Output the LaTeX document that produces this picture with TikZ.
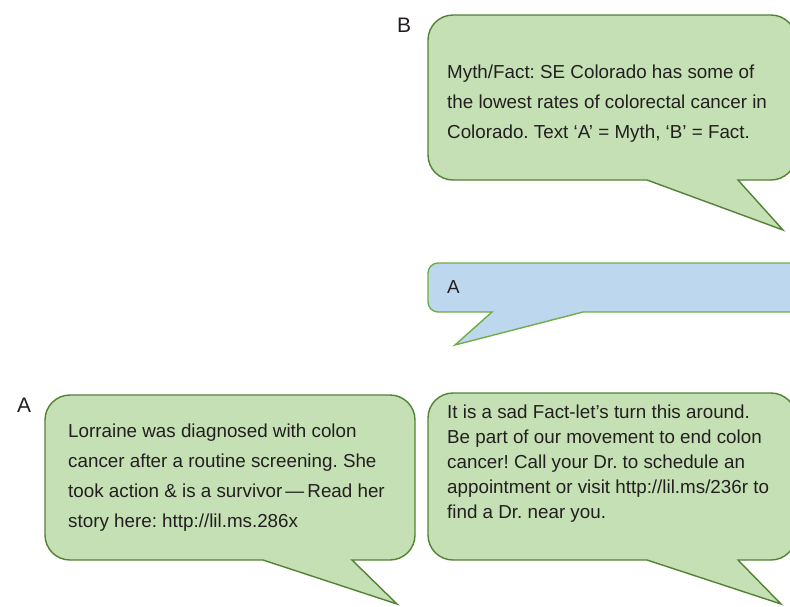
\documentclass[tikz,border=0pt]{standalone}
\usepackage{fontspec}
\setmainfont{Liberation Sans}
\frenchspacing
\definecolor{bubfill}{HTML}{C5E0B4}
\definecolor{bubline}{HTML}{548235}
\definecolor{bluefill}{HTML}{BDD7EE}
\definecolor{blueline}{HTML}{70AD47}
\definecolor{txt}{HTML}{231F20}
\begin{document}
\begin{tikzpicture}[x=1pt,y=-1pt,
  greenbub/.style={fill=bubfill,draw=bubline,line width=1.4pt,line join=miter},
  bluebub/.style={fill=bluefill,draw=blueline,line width=1.4pt,line join=miter},
  bubtext/.style={anchor=base west,inner sep=0pt,align=left,text=txt,font=\fontsize{18.8}{30}\selectfont},
  bubtextb/.style={bubtext,font=\fontsize{18.8}{25}\selectfont},
  panel/.style={anchor=base west,inner sep=0pt,text=txt,font=\fontsize{21}{24}\selectfont}]
\useasboundingbox (0,0) rectangle (790,606);
\clip (0,0) rectangle (790,606);
% Bubble B (top)
\draw[greenbub] (647,180) [rounded corners=25] -- (428,180) -- (428,15) -- (796,15) -- (796,180) [sharp corners] -- (738,180) -- (783,230) -- cycle;
% Blue reply bubble
\draw[bluebub] (492,312) [rounded corners=10] -- (428,312) -- (428,263) -- (840,263) -- (840,312) [sharp corners] -- (583,312) -- (455,345) -- cycle;
% Bubble A (bottom left)
\draw[greenbub] (263,560) [rounded corners=25] -- (45,560) -- (45,395) -- (415,395) -- (415,560) [sharp corners] -- (352,560) -- (397,604) -- cycle;
% Bubble bottom right
\draw[greenbub] (647,560) [rounded corners=25] -- (428,560) -- (428,393) -- (796,393) -- (796,560) [sharp corners] -- (738,560) -- (781,604) -- cycle;
% Panel labels
\node[panel] (labB) at (397,32) {B};
\node[panel] (labA) at (17,412) {A};
% Texts (base anchor = baseline of last line)
\node[bubtext] (tB) at (447,138) {Myth/Fact: SE Colorado has some of\\the lowest rates of colorectal cancer in\\Colorado. Text ‘A’ = Myth, ‘B’ = Fact.};
\node[bubtext] (tBlue) at (447,293) {A};
\node[bubtext] (tA) at (68,527) {Lorraine was diagnosed with colon\\cancer after a routine screening. She\\took action \& is a survivor\,—\,Read her\\story here: http://lil.ms.286x};
\node[bubtextb] (tC) at (447,518) {It is a sad Fact-let’s turn this around.\\Be part of our movement to end colon\\cancer! Call your Dr. to schedule an\\appointment or visit http://lil.ms/236r to\\find a Dr. near you.};
\end{tikzpicture}
\end{document}
